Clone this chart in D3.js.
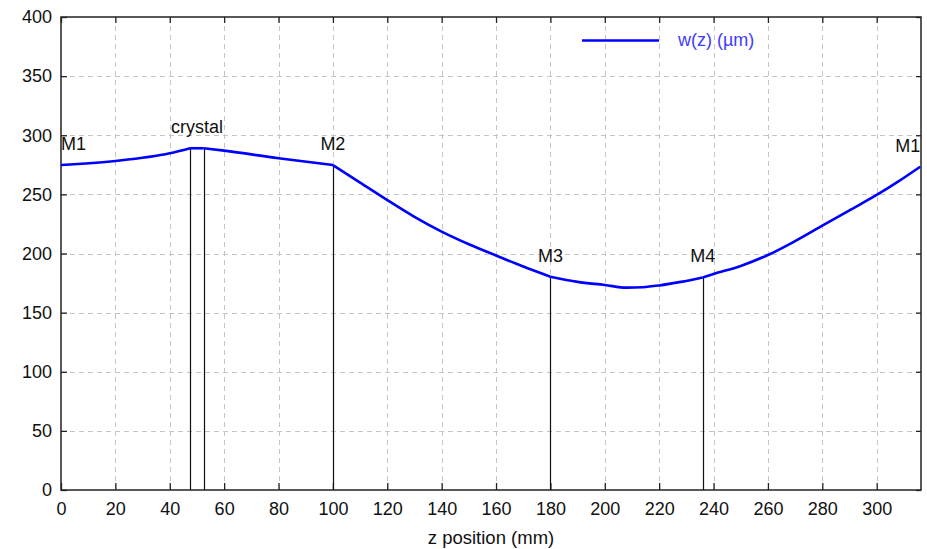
<!DOCTYPE html>
<html>
<head>
<meta charset="utf-8">
<script src="https://cdn.jsdelivr.net/npm/d3@7/dist/d3.min.js"></script>
<style>
  html, body { margin: 0; padding: 0; background: #fff; }
  svg { display: block; }
  text { font-family: "Liberation Sans", Arial, sans-serif; }
</style>
</head>
<body>
<svg id="chart" width="927" height="549"></svg>
<script>
// ---- data ----
const zPos = [0, 20, 40, 47.5, 52.5, 60, 80, 100,
              110, 120, 130, 140, 150, 160, 170, 180,
              190, 200, 208, 214, 220, 228, 236,
              240, 250, 260, 270, 280, 290, 300, 308, 316];
const wVal = [274.8, 278.2, 284.7, 289, 289, 287, 280.5, 274.8,
              260, 245.2, 231, 218.5, 207.8, 198.3, 189, 180.4,
              176, 173.4, 171.1, 171.5, 173, 176, 179.8,
              182.7, 189.5, 198.7, 210.5, 223.5, 236.5, 249.5, 261, 273.4];
// break points where the curve changes (mirrors / crystal faces)
const breaks = [47.5, 52.5, 100, 180, 236];
// vertical marker lines
const markerZ = [47.5, 52.5, 100, 180, 236];
// labels
const labelText = ["M1", "crystal", "M2", "M3", "M4", "M1"];
const labelZ = [0, 50, 100, 180, 236, 316];
const labelW = [274.8, 289, 274.8, 180.4, 179.8, 273.4];
const labelAnchor = ["start", "middle", "middle", "middle", "middle", "end"];
// ticks
const xTicks = [0, 20, 40, 60, 80, 100, 120, 140, 160, 180, 200, 220, 240, 260, 280, 300];
const yTicks = [0, 50, 100, 150, 200, 250, 300, 350, 400];
const seriesName = "w(z) (µm)";
const xTitle = "z position (mm)";

// ---- layout ----
const svg = d3.select("#chart");
const L = 61, R = 921, T = 17, B = 490;
const x = d3.scaleLinear().domain([0, 316.3]).range([L, R]);
const y = d3.scaleLinear().domain([0, 400]).range([B, T]);

// grid
const grid = svg.append("g").attr("stroke", "#c4c4c4").attr("stroke-width", 1)
  .attr("stroke-dasharray", "5,4");
xTicks.filter(t => t > 0).forEach(t => {
  grid.append("line").attr("x1", Math.round(x(t)) + 0.5).attr("x2", Math.round(x(t)) + 0.5)
    .attr("y1", T).attr("y2", B);
});
yTicks.filter(t => t > 0 && t < 400).forEach(t => {
  grid.append("line").attr("y1", Math.round(y(t)) + 0.5).attr("y2", Math.round(y(t)) + 0.5)
    .attr("x1", L).attr("x2", R);
});

// axes (inward ticks on all four sides)
const fontSize = 18;
const axB = svg.append("g").attr("transform", `translate(0,${B})`)
  .call(d3.axisBottom(x).tickValues(xTicks).tickSizeInner(-7).tickSizeOuter(0).tickPadding(12));
const axT = svg.append("g").attr("transform", `translate(0,${T})`)
  .call(d3.axisTop(x).tickValues(xTicks).tickSizeInner(-6).tickSizeOuter(0).tickFormat(""));
const axL = svg.append("g").attr("transform", `translate(${L},0)`)
  .call(d3.axisLeft(y).tickValues(yTicks).tickSizeInner(-6).tickSizeOuter(0).tickPadding(9));
const axR = svg.append("g").attr("transform", `translate(${R},0)`)
  .call(d3.axisRight(y).tickValues(yTicks).tickSizeInner(-5).tickSizeOuter(0).tickFormat(""));
[axB, axT, axL, axR].forEach(a => {
  a.select(".domain").remove();
  a.selectAll(".tick line").attr("stroke", "#222").attr("stroke-width", 1.3);
  a.selectAll("text").attr("font-size", fontSize).attr("fill", "#111")
    .style("font-family", "'Liberation Sans', Arial, sans-serif");
});
axB.selectAll("text").attr("dy", "0.71em");

// frame
svg.append("rect").attr("x", L).attr("y", T).attr("width", R - L).attr("height", B - T)
  .attr("fill", "none").attr("stroke", "#222").attr("stroke-width", 1.5);

// vertical marker lines
const wAt = z => {
  const i = zPos.indexOf(z);
  return i >= 0 ? wVal[i] : wVal[0];
};
markerZ.forEach(z => {
  const xp = Math.round(x(z)) + 0.5;
  svg.append("line").attr("x1", xp).attr("x2", xp)
    .attr("y1", y(wAt(z))).attr("y2", B)
    .attr("stroke", "#111").attr("stroke-width", 1.2);
});

// curve, drawn per segment so the kinks at the mirrors stay sharp
const pts = zPos.map((z, i) => [z, wVal[i]]);
const edges = [0, ...breaks, 316];
const line = d3.line().x(d => x(d[0])).y(d => y(d[1])).curve(d3.curveMonotoneX);
for (let k = 0; k < edges.length - 1; k++) {
  const seg = pts.filter(p => p[0] >= edges[k] && p[0] <= edges[k + 1]);
  svg.append("path").datum(seg).attr("d", line)
    .attr("fill", "none").attr("stroke", "#0000ff").attr("stroke-width", 2.6)
    .attr("stroke-linejoin", "round");
}

// labels
labelText.forEach((t, i) => {
  let xp = x(labelZ[i]);
  svg.append("text").attr("x", xp).attr("y", y(labelW[i]) - 15)
    .attr("text-anchor", labelAnchor[i]).attr("font-size", fontSize).attr("fill", "#111")
    .text(t);
});

// legend
svg.append("line").attr("x1", 582).attr("x2", 659).attr("y1", 40.5).attr("y2", 40.5)
  .attr("stroke", "#0000ff").attr("stroke-width", 2.6);
svg.append("text").attr("x", 678).attr("y", 40).attr("dy", "0.35em")
  .attr("font-size", fontSize).attr("fill", "#3c3cff").text(seriesName);

// x title
svg.append("text").attr("x", (L + R) / 2).attr("y", 544).attr("text-anchor", "middle")
  .attr("font-size", 18.5).attr("fill", "#111").text(xTitle);
</script>
</body>
</html>
